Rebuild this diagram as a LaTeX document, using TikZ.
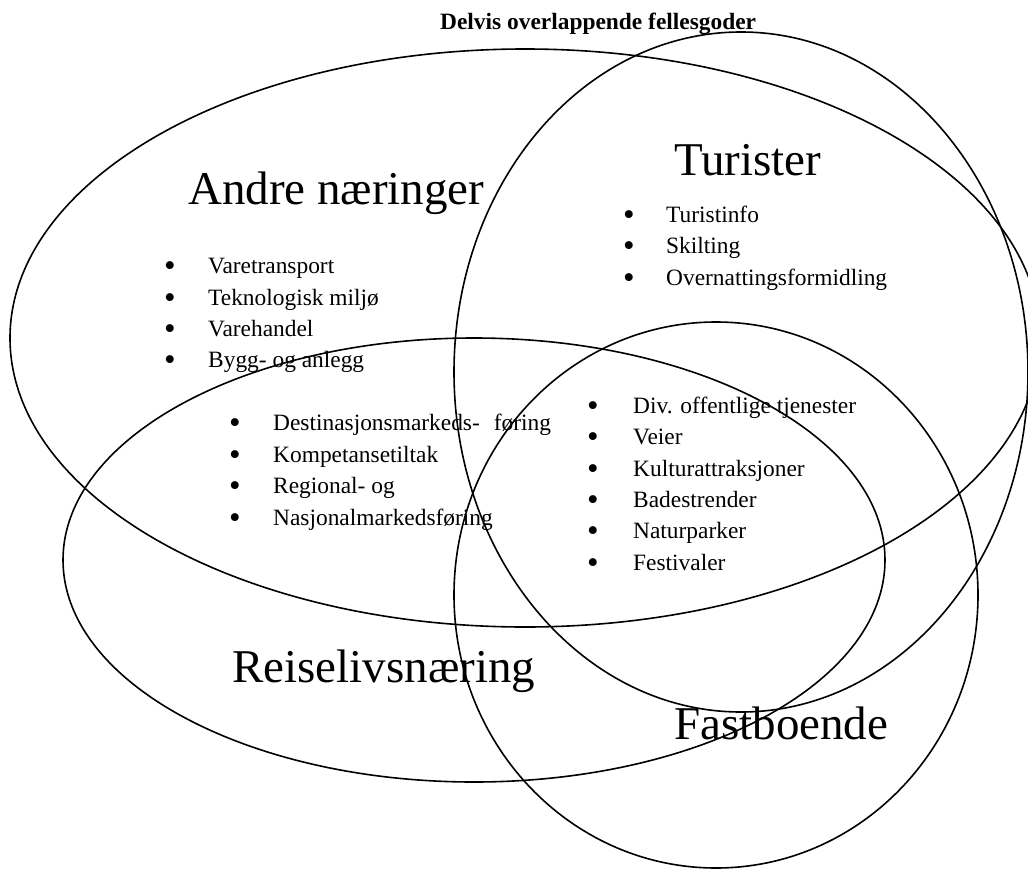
\documentclass[tikz,border=0pt]{standalone}
\usepackage{fontspec}
\setmainfont{Liberation Serif}
\usetikzlibrary{shapes.geometric}
\begin{document}
\begin{tikzpicture}[x=1pt,y=-1pt,
  set/.style={ellipse, draw, line width=1.6pt, inner sep=0pt, outer sep=0pt},
  big/.style={anchor=base west, inner sep=0pt, font=\fontsize{47}{56}\selectfont},
  itm/.style={anchor=base west, inner sep=0pt, font=\fontsize{23.4}{28}\selectfont},
  bul/.style={anchor=base, inner sep=0pt, yshift=-3pt, font=\fontsize{33}{40}\selectfont},
  ttl/.style={anchor=base west, inner sep=0pt, font=\bfseries\fontsize{23.4}{28}\selectfont}]
\useasboundingbox (0,0) rectangle (1028,870);
\fill[white] (0,0) rectangle (1028,870);
\clip (0,0) rectangle (1028,870);
% sets
\node[set, minimum width=1030pt, minimum height=578pt] (andre) at (525,338) {};
\node[set, minimum width=574pt, minimum height=680pt] (turister) at (741,372) {};
\node[set, minimum width=822pt, minimum height=444pt] (reise) at (474,560) {};
\node[set, minimum width=524pt, minimum height=546pt] (fast) at (716,595) {};
% title
\node[ttl] (title) at (440,29) {Delvis overlappende fellesgoder};
% set labels
\node[big] (lA) at (188,204) {Andre næringer};
\node[big] (lT) at (674,175) {Turister};
\node[big] (lR) at (232,682) {Reiselivsnæring};
\node[big] (lF) at (674,739) {Fastboende};
% Andre naeringer list
\node[bul] (a1b) at (170,273) {\textbullet}; \node[itm] (a1) at (208,273) {Varetransport};
\node[bul] (a2b) at (170,305) {\textbullet}; \node[itm] (a2) at (208,305) {Teknologisk miljø};
\node[bul] (a3b) at (170,336) {\textbullet}; \node[itm] (a3) at (208,336) {Varehandel};
\node[bul] (a4b) at (170,367) {\textbullet}; \node[itm] (a4) at (208,367) {Bygg- og anlegg};
% Turister list
\node[bul] (t1b) at (629,222) {\textbullet}; \node[itm] (t1) at (666,222) {Turistinfo};
\node[bul] (t2b) at (629,253) {\textbullet}; \node[itm] (t2) at (666,253) {Skilting};
\node[bul] (t3b) at (629,285) {\textbullet}; \node[itm] (t3) at (666,285) {Overnattingsformidling};
% Reiselivsnaering list
\node[bul] (r1b) at (235,430) {\textbullet}; \node[itm] (r1) at (273,430) {Destinasjonsmarkeds-\hspace{0.6em}føring};
\node[bul] (r2b) at (235,462) {\textbullet}; \node[itm] (r2) at (273,462) {Kompetansetiltak};
\node[bul] (r3b) at (235,493) {\textbullet}; \node[itm] (r3) at (273,493) {Regional- og};
\node[bul] (r4b) at (235,525) {\textbullet}; \node[itm] (r4) at (273,525) {Nasjonalmarkedsføring};
% Shared list
\node[bul] (c1b) at (593,413) {\textbullet}; \node[itm] (c1) at (633,413) {Div. offentlige tjenester};
\node[bul] (c2b) at (593,444) {\textbullet}; \node[itm] (c2) at (633,444) {Veier};
\node[bul] (c3b) at (593,476) {\textbullet}; \node[itm] (c3) at (633,476) {Kulturattraksjoner};
\node[bul] (c4b) at (593,507) {\textbullet}; \node[itm] (c4) at (633,507) {Badestrender};
\node[bul] (c5b) at (593,538) {\textbullet}; \node[itm] (c5) at (633,538) {Naturparker};
\node[bul] (c6b) at (593,570) {\textbullet}; \node[itm] (c6) at (633,570) {Festivaler};
\end{tikzpicture}
\end{document}
